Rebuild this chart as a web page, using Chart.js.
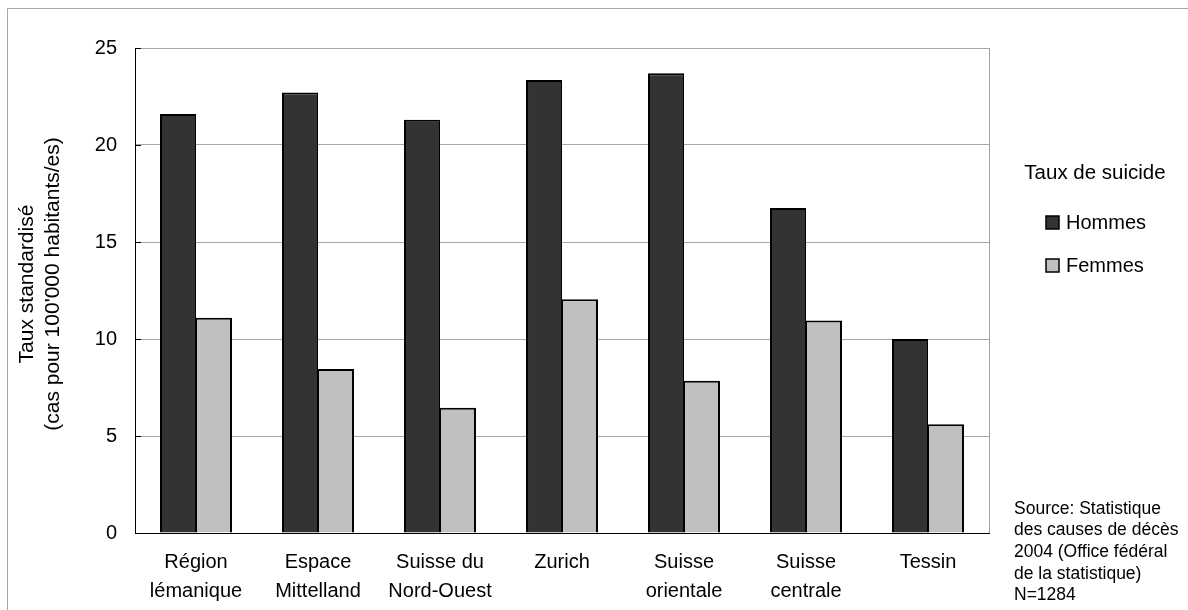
<!DOCTYPE html>
<html><head><meta charset="utf-8">
<script src="https://cdn.jsdelivr.net/npm/chart.js@4.4.1/dist/chart.umd.min.js"></script>
<style>html,body{margin:0;padding:0;background:#fff;} canvas{display:block;}</style>
</head><body>
<canvas id="c" width="1188" height="610"></canvas>
<script>
const categories = [["Région","lémanique"],["Espace","Mittelland"],["Suisse du","Nord-Ouest"],["Zurich"],["Suisse","orientale"],["Suisse","centrale"],["Tessin"]];
const hommes = [21.6, 22.7, 21.3, 23.35, 23.7, 16.75, 10.0];
const femmes = [11.1, 8.45, 6.45, 12.05, 7.85, 10.95, 5.6];
const seriesNames = ["Hommes", "Femmes"];
const yTickValues = [0, 5, 10, 15, 20, 25];
const yTitle = ["Taux standardisé", "(cas pour 100'000 habitants/es)"];
const legendTitle = "Taux de suicide";
const sourceLines = ["Source: Statistique", "des causes de décès", "2004 (Office fédéral", "de la statistique)", "N=1284"];

const FONT = '"Liberation Sans", Arial, sans-serif';
Chart.defaults.font.family = FONT;
Chart.defaults.color = '#000';

const decorPlugin = {
  id: 'decor',
  beforeDraw(chart) {
    const ctx = chart.ctx;
    ctx.save();
    ctx.fillStyle = '#fff';
    ctx.fillRect(0, 0, chart.width, chart.height);
    ctx.strokeStyle = '#a6a6a6';
    ctx.lineWidth = 1;
    ctx.beginPath();
    ctx.moveTo(7.5, chart.height + 5);
    ctx.lineTo(7.5, 8.5);
    ctx.lineTo(chart.width + 5, 8.5);
    ctx.stroke();
    ctx.restore();
  },
  beforeDatasetsDraw(chart) {
    const ctx = chart.ctx, a = chart.chartArea, y = chart.scales.y;
    ctx.save();
    ctx.strokeStyle = '#a0a0a0';
    ctx.lineWidth = 1;
    ctx.beginPath();
    ctx.moveTo(Math.round(a.right) + 0.5, a.top);
    ctx.lineTo(Math.round(a.right) + 0.5, a.bottom);
    ctx.stroke();
    ctx.strokeStyle = '#000';
    ctx.beginPath();
    yTickValues.forEach(v => {
      const py = Math.round(y.getPixelForValue(v)) + 0.5;
      ctx.moveTo(a.left, py);
      ctx.lineTo(a.left + 6, py);
    });
    ctx.stroke();
    ctx.restore();
  },
  afterDraw(chart) {
    const ctx = chart.ctx;
    ctx.save();
    ctx.fillStyle = '#000';
    ctx.textBaseline = 'middle';
    // y-axis title
    ctx.save();
    ctx.font = '21px ' + FONT;
    ctx.textAlign = 'center';
    ctx.translate(27, 284);
    ctx.rotate(-Math.PI / 2);
    yTitle.forEach((t, i) => ctx.fillText(t, 0, i * 26));
    ctx.restore();
    // legend
    ctx.font = '20.5px ' + FONT;
    ctx.textAlign = 'center';
    ctx.fillText(legendTitle, 1095, 173);
    const ys = [222, 265];
    ctx.font = '20px ' + FONT;
    chart.data.datasets.forEach((ds, i) => {
      ctx.fillStyle = ds.backgroundColor;
      ctx.fillRect(1046, ys[i] - 6, 13, 13);
      ctx.strokeStyle = '#000';
      ctx.lineWidth = 1.5;
      ctx.strokeRect(1046, ys[i] - 6, 13, 13);
      ctx.fillStyle = '#000';
      ctx.textAlign = 'left';
      ctx.fillText(ds.label, 1066, ys[i] + 1);
    });
    // source note
    ctx.font = '17.5px ' + FONT;
    ctx.textAlign = 'left';
    sourceLines.forEach((t, i) => ctx.fillText(t, 1014, 509 + i * 21.6));
    ctx.restore();
  }
};

new Chart(document.getElementById('c'), {
  type: 'bar',
  data: {
    labels: categories,
    datasets: [
      { label: seriesNames[0], data: hommes, backgroundColor: '#333333', borderColor: '#000',
        borderWidth: {top: 2, left: 2, right: 1, bottom: 0}, borderSkipped: false },
      { label: seriesNames[1], data: femmes, backgroundColor: '#c0c0c0', borderColor: '#000',
        borderWidth: {top: 2, left: 1, right: 2, bottom: 0}, borderSkipped: false }
    ]
  },
  options: {
    responsive: false,
    animation: false,
    devicePixelRatio: 1,
    layout: { padding: { top: 48, right: 199, bottom: 0, left: 0 } },
    datasets: { bar: { categoryPercentage: 0.59, barPercentage: 1.0 } },
    plugins: { legend: { display: false }, tooltip: { enabled: false } },
    scales: {
      x: {
        grid: { display: false, drawTicks: false },
        border: { display: true, color: '#000', width: 1 },
        ticks: { font: { size: 20, lineHeight: 1.45 }, padding: 15, maxRotation: 0, autoSkip: false, color: '#000' },
        afterFit(s) { s.height = 77; }
      },
      y: {
        min: 0, max: 25,
        afterBuildTicks(s) { s.ticks = yTickValues.map(v => ({ value: v })); },
        grid: { color: '#a6a6a6', lineWidth: 1, drawTicks: false },
        border: { display: true, color: '#000', width: 1 },
        ticks: { font: { size: 20 }, padding: 18, color: '#000' },
        afterFit(s) { s.width = 135; }
      }
    }
  },
  plugins: [decorPlugin]
});
</script>
</body></html>
